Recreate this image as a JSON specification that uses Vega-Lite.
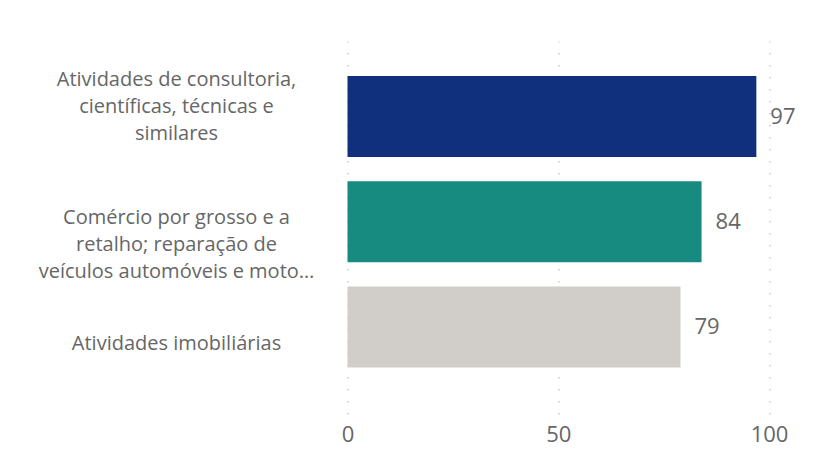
{
  "$schema": "https://vega.github.io/schema/vega-lite/v6.json",
  "autosize": {"type": "none"},
  "width": 421.5,
  "height": 373,
  "padding": {"left": 347.5, "top": 41, "right": 48, "bottom": 53},
  "background": "white",
  "config": {"view": {"stroke": null}, "font": "Segoe UI, Open Sans, sans-serif"},
  "data": {
    "values": [
      {"category": "Atividades de consultoria,|científicas, técnicas e|similares", "value": 97, "key": "a"},
      {"category": "Comércio por grosso e a|retalho; reparação de|veículos automóveis e moto…", "value": 84, "key": "b"},
      {"category": "Atividades imobiliárias", "value": 79, "key": "c"}
    ]
  },
  "encoding": {
    "y": {
      "field": "category", "type": "nominal", "sort": null, "title": null,
      "scale": {"paddingInner": 0.23, "paddingOuter": 0.387, "align": 0.43},
      "axis": {
        "domain": false, "ticks": false, "labelAlign": "center", "labelPadding": 171.5,
        "labelLimit": 400, "labelFontSize": 20, "labelColor": "#666666", "labelLineHeight": 27,
        "labelExpr": "split(datum.label, '|')",
        "labelOffset": {"condition": [
          {"test": "indexof(datum.value, 'consultoria') >= 0", "value": -37},
          {"test": "indexof(datum.value, 'Comércio') >= 0", "value": -4}
        ], "value": 17}
      }
    },
    "x": {
      "field": "value", "type": "quantitative", "title": null,
      "scale": {"domain": [0, 100], "nice": false},
      "axis": {
        "values": [0, 50, 100], "domain": false, "ticks": false, "labelFontSize": 22,
        "labelColor": "#666666", "labelPadding": 10, "grid": true, "gridColor": "#cccccc",
        "gridDash": [1.5, 10.5], "gridWidth": 1.5, "labelFlush": false
      }
    }
  },
  "layer": [
    {
      "mark": {"type": "bar"},
      "encoding": {
        "color": {
          "field": "key", "type": "nominal", "legend": null,
          "scale": {"domain": ["a", "b", "c"], "range": ["#102f7d", "#178b80", "#d1cdc8"]}
        }
      }
    },
    {
      "mark": {"type": "text", "align": "left", "baseline": "middle", "dx": 14, "fontSize": 22, "color": "#666666"},
      "encoding": {"text": {"field": "value", "type": "quantitative"}}
    }
  ]
}
